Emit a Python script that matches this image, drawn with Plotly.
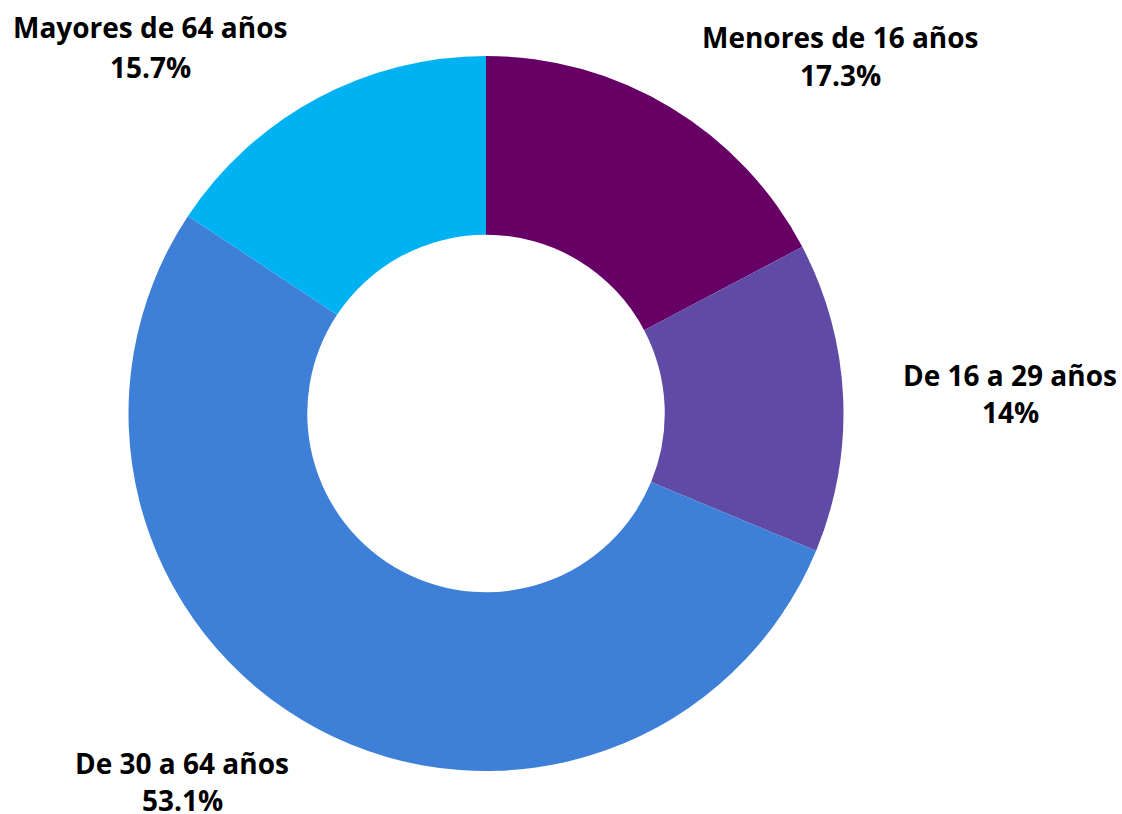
import plotly.graph_objects as go

grupos = ['Menores de 16 años', 'De 16 a 29 años', 'De 30 a 64 años', 'Mayores de 64 años']
porcentajes = [17.3, 14, 53.1, 15.7]
colores = ['#660066', '#5F4BA5', '#3E80D7', '#00B2F1']

fig = go.Figure(go.Pie(
    labels=grupos,
    values=porcentajes,
    hole=0.5,
    sort=False,
    direction='clockwise',
    rotation=0,
    textinfo='none',
    marker=dict(colors=colores, line=dict(width=0)),
    domain=dict(x=[128/1122, 844/1122], y=[1-771/814, 1-56/814]),
    showlegend=False,
))

# etiquetas fuera del anillo, en las esquinas (x, y nombre, y porcentaje) en px
pos = [(840, 37, 75), (1010, 375, 412), (182, 763, 800), (150, 27, 67)]
for g, p, (px_, y1, y2) in zip(grupos, porcentajes, pos):
    for txt, py_ in ((g, y1), (f'{p:g}%', y2)):
        fig.add_annotation(
            x=px_/1122, y=1-py_/814, xref='paper', yref='paper',
            text=f'<b>{txt}</b>', showarrow=False,
            font=dict(family='Open Sans', size=28, color='#000000'),
            xanchor='center', yanchor='middle', align='center',
        )

fig.update_layout(
    width=1122, height=814,
    margin=dict(l=0, r=0, t=0, b=0),
    paper_bgcolor='white', plot_bgcolor='white',
)

fig.write_html("out.html", config={'displayModeBar': False},
               post_script="document.body.style.margin='0';")
